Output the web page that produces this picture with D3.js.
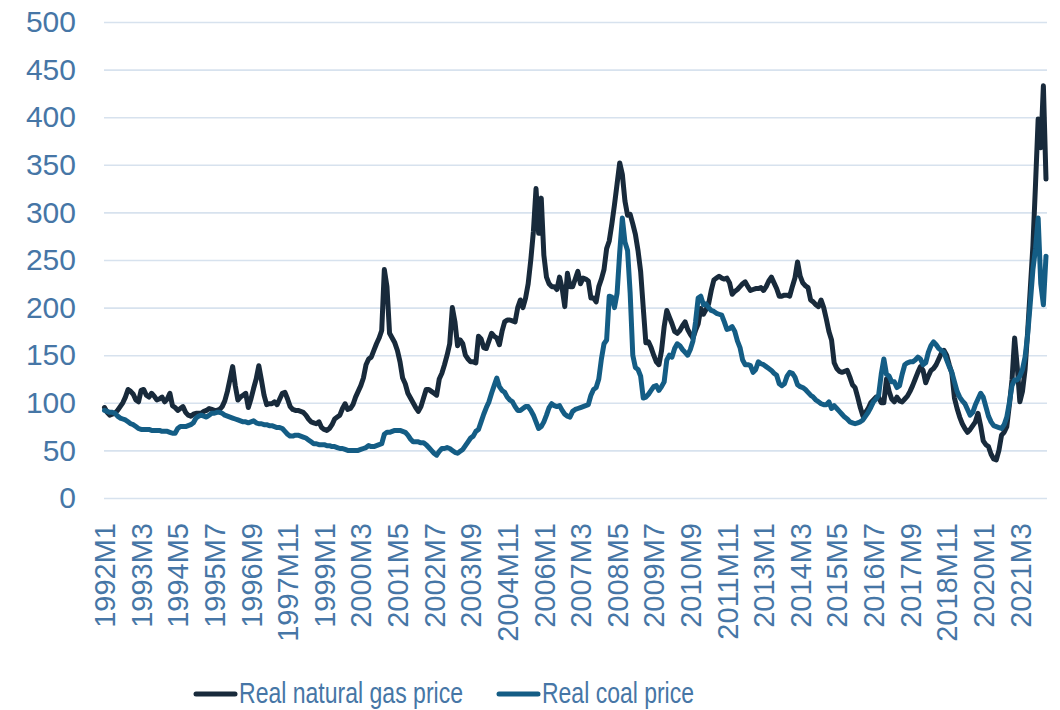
<!DOCTYPE html>
<html>
<head>
<meta charset="utf-8">
<script src="https://cdn.jsdelivr.net/npm/d3@7"></script>
<style>
  body { margin: 0; background: #fff; }
  svg { display: block; font-family: "Liberation Sans", Arial, sans-serif; }
</style>
</head>
<body>
<svg id="chart" width="1060" height="710"></svg>
<script>
// monthly index values, 1992M1 .. 2022M1
var startYear = 1992;

var gas = [
  95, 90, 87, 88, 89, 92, 96, 100, 106, 114, 112, 109,        // 1992
  103, 101, 113, 114, 108, 106, 110, 107, 103, 104, 106, 101, // 1993
  104, 110, 97, 95, 92, 94, 96, 90, 87, 86, 88, 89,           // 1994
  89, 89, 91, 92, 94, 93, 92, 92, 93, 96, 102, 112,           // 1995
  125, 138, 118, 103, 106, 108, 110, 95, 104, 115, 125, 139,  // 1996
  124, 108, 98, 99, 99, 101, 98, 104, 110, 111, 104, 96,      // 1997
  93, 92, 92, 91, 90, 87, 83, 80, 79, 78, 80, 74,             // 1998
  72, 71, 73, 77, 83, 85, 87, 94, 99, 93, 94, 98,             // 1999
  106, 112, 118, 126, 140, 146, 148, 155, 162, 168, 176, 240, // 2000
  222, 173, 168, 163, 155, 143, 126, 120, 110, 105, 100, 95,  // 2001
  91, 96, 105, 114, 114, 112, 110, 108, 125, 131, 140, 150,   // 2002
  162, 200, 185, 160, 166, 162, 150, 146, 143, 143, 142, 170, // 2003
  167, 158, 157, 165, 173, 170, 168, 161, 175, 185, 187, 187, // 2004
  186, 185, 200, 208, 200, 210, 225, 250, 280, 325, 278, 315, // 2005
  255, 232, 225, 222, 222, 219, 232, 220, 201, 236, 222, 222, // 2006
  230, 238, 225, 231, 230, 228, 210, 210, 206, 222, 230, 240, // 2007
  262, 270, 288, 308, 330, 352, 340, 312, 297, 298, 288, 277, // 2008
  260, 238, 200, 163, 164, 158, 150, 143, 140, 155, 180, 197, // 2009
  190, 183, 175, 173, 176, 181, 185, 177, 172, 168, 176, 183, // 2010
  199, 193, 198, 204, 218, 229, 231, 233, 231, 230, 231, 226, // 2011
  214, 217, 219, 222, 225, 227, 222, 218, 219, 220, 220, 221, // 2012
  218, 222, 228, 232, 226, 220, 212, 212, 213, 213, 212, 222, // 2013
  231, 248, 233, 226, 223, 221, 208, 206, 203, 201, 208, 200, // 2014
  188, 175, 166, 142, 136, 133, 132, 133, 134, 127, 119, 116, // 2015
  106, 95, 86, 90, 94, 100, 103, 106, 106, 100, 100, 125,     // 2016
  112, 104, 101, 106, 102, 101, 104, 107, 112, 118, 125, 132, // 2017
  138, 134, 121, 128, 134, 136, 140, 146, 152, 155, 150, 140, // 2018
  131, 105, 94, 85, 78, 73, 69, 72, 76, 80, 89, 76,           // 2019
  60, 56, 54, 46, 41, 40, 50, 66, 69, 75, 98, 124,            // 2020
  168, 138, 101, 112, 135, 175, 220, 265, 330, 398, 368, 433, // 2021
  335                                                          // 2022
];

var coal = [
  92, 91, 90, 90, 89, 86, 84, 83, 82, 80, 78, 77,             // 1992
  75, 73, 72, 72, 72, 72, 71, 71, 71, 71, 70, 70,             // 1993
  70, 69, 68, 68, 73, 75, 75, 75, 76, 77, 79, 84,             // 1994
  86, 87, 86, 85, 87, 89, 89, 90, 90, 89, 87, 86,             // 1995
  85, 84, 83, 82, 81, 80, 80, 79, 80, 81, 79, 78,             // 1996
  78, 77, 77, 76, 76, 75, 74, 74, 73, 70, 67, 65,             // 1997
  65, 66, 66, 65, 64, 63, 61, 59, 57, 57, 56, 56,             // 1998
  56, 55, 55, 54, 54, 53, 52, 52, 51, 50, 50, 50,             // 1999
  50, 50, 51, 52, 53, 55, 54, 54, 55, 56, 57, 67,             // 2000
  69, 69, 70, 71, 71, 71, 70, 69, 66, 62, 59, 59,             // 2001
  59, 58, 58, 56, 53, 50, 47, 45, 49, 52, 52, 53,             // 2002
  52, 50, 48, 47, 49, 51, 55, 59, 63, 65, 70, 72,             // 2003
  80, 88, 95, 101, 110, 118, 126, 117, 113, 111, 106, 103,    // 2004
  101, 96, 92, 92, 94, 96, 96, 92, 87, 80, 73, 75,            // 2005
  80, 87, 95, 99, 97, 96, 97, 92, 88, 86, 85, 91,             // 2006
  93, 94, 95, 96, 97, 98, 108, 114, 116, 125, 146, 162,       // 2007
  166, 212, 211, 200, 215, 258, 294, 269, 260, 215, 150, 137, // 2008
  135, 128, 105, 106, 109, 113, 117, 118, 113, 117, 122, 145, // 2009
  150, 148, 157, 162, 160, 156, 153, 150, 156, 165, 185, 210, // 2010
  212, 203, 204, 200, 197, 196, 194, 193, 192, 185, 177, 178, // 2011
  180, 175, 165, 158, 145, 140, 140, 139, 132, 135, 143, 141, // 2012
  140, 138, 136, 134, 131, 129, 120, 118, 120, 128, 132, 131, // 2013
  127, 119, 117, 116, 114, 111, 108, 106, 103, 101, 99, 98,   // 2014
  98, 101, 94, 97, 94, 91, 88, 85, 83, 80, 79, 78,            // 2015
  79, 80, 82, 86, 90, 95, 101, 104, 108, 130, 146, 130,       // 2016
  128, 122, 122, 116, 118, 130, 140, 142, 143, 143, 145, 148, // 2017
  146, 140, 142, 153, 160, 164, 161, 157, 155, 153, 145, 138, // 2018
  132, 122, 112, 106, 102, 99, 93, 87, 90, 98, 104, 110,      // 2019
  106, 96, 86, 80, 76, 75, 74, 73, 77, 85, 100, 118,          // 2020
  124, 124, 128, 135, 148, 172, 205, 240, 262, 294, 225, 203, // 2021
  254                                                          // 2022
];

var xTickLabels = ['1992M1','1993M3','1994M5','1995M7','1996M9','1997M11',
  '1999M1','2000M3','2001M5','2002M7','2003M9','2004M11','2006M1','2007M3',
  '2008M5','2009M7','2010M9','2011M11','2013M1','2014M3','2015M5','2016M7',
  '2017M9','2018M11','2020M1','2021M3'];
var yTicks = [0, 50, 100, 150, 200, 250, 300, 350, 400, 450, 500];
var seriesNames = ['Real natural gas price', 'Real coal price'];
var seriesColors = ['#182a3b', '#145d85'];

var textColor = '#4676a6',
  gridColor = '#d7e2ee';

var plotLeft = 104, plotRight = 1047, plotTop = 22, plotBottom = 498;

// category labels for every month
var months = gas.map(function(d, i) {
  return (startYear + Math.floor(i / 12)) + 'M' + (i % 12 + 1);
});

var svg = d3.select('#chart');

var x = d3.scalePoint().domain(months).range([104.5, 1046]);
var y = d3.scaleLinear().domain([0, 500]).range([plotBottom, plotTop]);

// gridlines
var grid = svg.append('g')
  .attr('transform', 'translate(' + plotLeft + ',0)')
  .call(d3.axisLeft(y).tickValues(yTicks).tickSize(-(plotRight - plotLeft)).tickFormat(''));
grid.select('.domain').remove();
grid.selectAll('line').attr('stroke', gridColor).attr('stroke-width', 1.6);

// y axis labels
var yAxis = svg.append('g')
  .attr('transform', 'translate(' + plotLeft + ',0)')
  .call(d3.axisLeft(y).tickValues(yTicks).tickSize(0).tickPadding(28));
yAxis.select('.domain').remove();
yAxis.selectAll('text')
  .attr('fill', textColor)
  .style('font-size', '30px')
  .style('font-family', '"Liberation Sans", Arial, sans-serif');

// x axis labels, rotated
var xAxis = svg.append('g')
  .attr('transform', 'translate(0,' + plotBottom + ')')
  .call(d3.axisBottom(x).tickValues(xTickLabels).tickSize(0));
xAxis.select('.domain').remove();
xAxis.selectAll('text')
  .attr('fill', textColor)
  .style('font-size', '29px')
  .style('font-family', '"Liberation Sans", Arial, sans-serif')
  .attr('text-anchor', 'end')
  .attr('x', 0)
  .attr('y', 0)
  .attr('dy', '0.35em')
  .attr('transform', 'translate(0,25) rotate(-90)');

// lines
var line = d3.line()
  .x(function(d, i) { return x(months[i]); })
  .y(function(d) { return y(d); });

svg.selectAll('.series')
  .data([gas, coal])
  .enter()
  .append('path')
  .attr('class', 'series')
  .attr('d', line)
  .attr('fill', 'none')
  .attr('stroke', function(d, i) { return seriesColors[i]; })
  .attr('stroke-width', 5)
  .attr('stroke-linejoin', 'round')
  .attr('stroke-linecap', 'round');

// legend
var legendX = [196, 499];
var legendTextW = [224, 152];
var leg = svg.selectAll('.legend')
  .data(seriesNames)
  .enter()
  .append('g')
  .attr('class', 'legend')
  .attr('transform', function(d, i) { return 'translate(' + legendX[i] + ',694)'; });
leg.append('line')
  .attr('x1', 0).attr('x2', 39)
  .attr('stroke', function(d, i) { return seriesColors[i]; })
  .attr('stroke-width', 5)
  .attr('stroke-linecap', 'round');
leg.append('text')
  .attr('x', 43)
  .attr('y', 9)
  .attr('fill', textColor)
  .style('font-size', '29px')
  .attr('textLength', function(d, i) { return legendTextW[i]; })
  .attr('lengthAdjust', 'spacingAndGlyphs')
  .text(function(d) { return d; });
</script>
</body>
</html>
